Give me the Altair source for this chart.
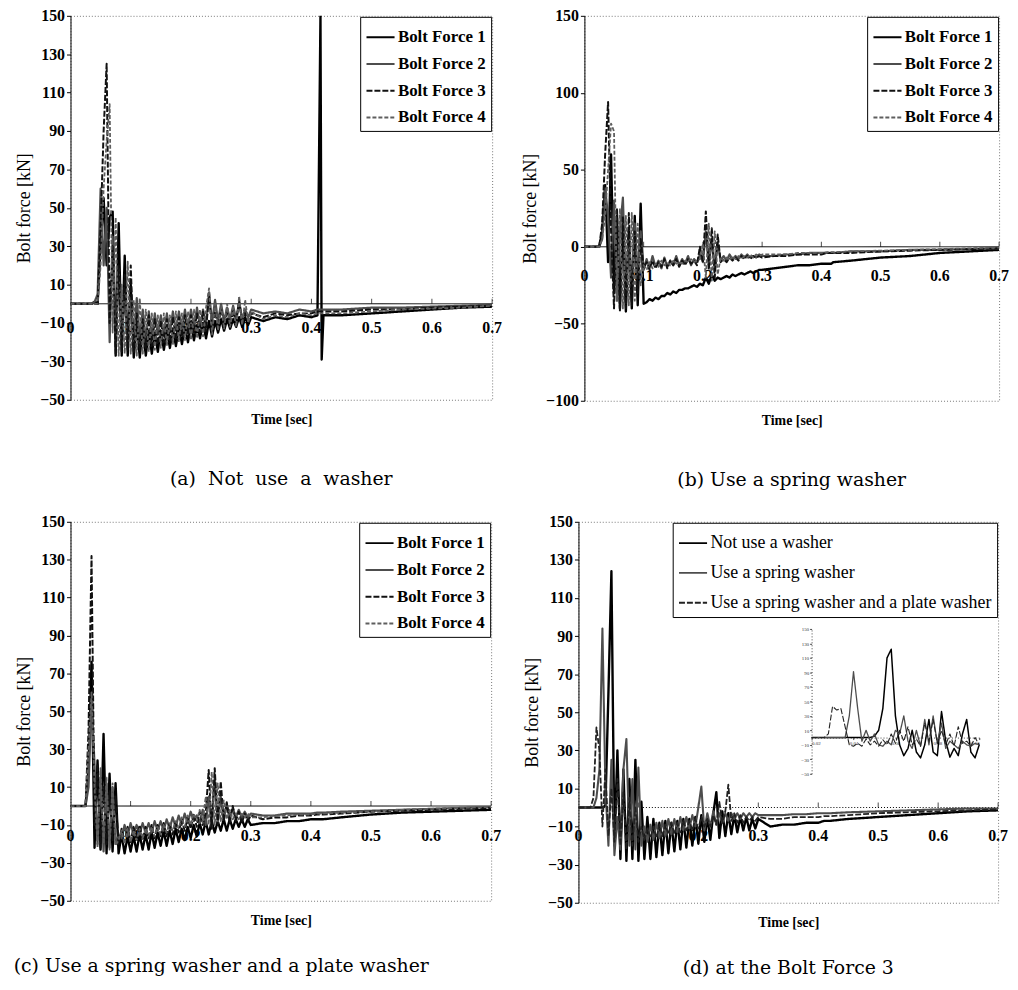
import altair as alt
import pandas as pd

FONT = "Liberation Serif"
CAP_FONT = "DejaVu Serif"
NB = "\u00a0"

# ---------------- time grid shared by the four main panels (sec) ----------------
time_s = [
    0.000, 0.010,
    0.020, 0.025, 0.030, 0.035, 0.040, 0.045, 0.050, 0.055, 0.060, 0.065,
    0.070, 0.075, 0.080, 0.085, 0.090, 0.095, 0.100, 0.105, 0.110, 0.115,
    0.120, 0.125, 0.130, 0.135, 0.140, 0.145, 0.150, 0.155, 0.160, 0.165,
    0.170, 0.175, 0.180, 0.185, 0.190, 0.195, 0.200, 0.205, 0.210, 0.215,
    0.220, 0.225, 0.230, 0.235, 0.240, 0.245, 0.250, 0.255, 0.260, 0.265,
    0.270, 0.275, 0.280, 0.285, 0.290, 0.295, 0.300,
    0.32, 0.34, 0.36, 0.38, 0.40, 0.41, 0.415, 0.417, 0.42, 0.45, 0.50, 0.55, 0.60, 0.65, 0.70,
]

# ---------------- (a) Not use a washer ----------------
a_bf1 = [0, 0,
    0, 0, 0, 0, 1, 0, 30, 55, 20, 45,
    48, -27, 42, -27, 25, -27, 10, -28, -10, -28,
    -12, -27, -14, -26, -15, -25, -14, -24, -14, -23,
    -13, -22, -12, -21, -12, -20, -11, -19, -11, -18,
    -10, -18, -9, -17, -9, -15, -8, -14, -8, -13,
    -8, -12, -7, -12, -7, -11, -7,
    -9, -7, -8, -6, -7, -6, 150, -29, -6, -6, -5, -4, -3, -2, -1.5]
a_bf2 = [0, 0,
    0, 0, 0, 0, 1, 5, 60, 20, 50, -20,
    35, -22, 18, -20, 5, -22, 3, -20, 3, -18,
    -3, -19, -4, -17, -5, -16, -6, -16, -5, -15,
    -4, -14, -4, -14, -3, -13, -3, -12, -2, -12,
    -3, -11, 6, -10, 2, -9, 0, -9, -2, -8,
    -1, -8, 1, -8, -3, -7, -3,
    -5, -4, -5, -3, -4, -3, -3, -3, -3, -3, -2, -2, -1.5, -1, -0.5]
a_bf3 = [0, 0,
    0, 0, 0, 0, 0, 0, 40, 90, 125, -10,
    30, -26, 20, -25, 15, -24, 20, -25, -5, -24,
    -8, -23, -6, -22, -8, -21, -9, -20, -8, -19,
    -7, -18, -7, -17, -6, -16, -6, -15, -5, -15,
    -4, -14, 5, -13, -4, -12, -3, -11, -5, -11,
    -4, -10, 2, -10, -5, -9, -5,
    -7, -5, -6, -5, -5, -4, -4, -4, -4, -4, -3, -3, -2, -1.5, -1]
a_bf4 = [0, 0,
    0, 0, 0, 0, 0, 0, 20, 60, 85, 104,
    -15, 45, -27, 10, -26, 22, -26, 2, -27, 3,
    -26, -3, -25, -5, -24, -6, -23, -5, -22, -6,
    -21, -4, -20, -5, -19, -4, -19, -3, -18, -3,
    -17, -2, 8, -16, 0, -14, -1, -13, 0, -12,
    -2, -12, 4, -11, 2, -10, -4,
    -8, -6, -7, -5, -6, -5, -5, -5, -5, -5, -4, -3, -2.5, -2, -1]

# ---------------- (b) Use a spring washer ----------------
b_bf1 = [0, 0,
    0, 0, 10, 40, -10, 60, -30, 20, -40, 15,
    -42, 10, -40, 20, -38, 28, -37, -36, -34, -35,
    -33, -34, -32, -32, -30, -31, -29, -30, -28, -28,
    -27, -27, -26, -25, -26, -24, -25, -20, -24, -18,
    -22, -20, -21, -20, -19, -20, -18, -19, -18, -17,
    -18, -17, -16, -17, -16, -15, -15,
    -14, -13, -12, -12, -11, -11, -11, -11, -10, -9, -7, -6, -4, -3, -2]
b_bf2 = [0, 0,
    0, 0, 5, 38, 20, -20, 30, -35, 10, 32,
    -30, 5, -25, 15, -20, 10, -15, -8, -14, -6,
    -13, -9, -14, -7, -13, -9, -12, -6, -12, -8,
    -11, -6, -12, -8, -10, -5, -10, 10, -12, 5,
    -15, 3, -9, -6, -9, -5, -8, -6, -8, -5,
    -7, -5, -7, -6, -7, -5, -6,
    -6, -5, -5, -4, -4, -4, -4, -4, -4, -3, -3, -2, -2, -1.5, -1]
b_bf3 = [0, 0,
    0, 0, 15, 60, 94, 10, -40, 25, -42, 20,
    -40, 22, -38, 10, -30, 5, -14, -10, -15, -9,
    -14, -10, -13, -8, -14, -9, -12, -8, -13, -9,
    -12, -8, -11, -9, -12, 0, -10, 23, -15, 12,
    -20, 8, -10, -8, -10, -7, -9, -7, -9, -6,
    -8, -6, -8, -6, -7, -6, -7,
    -6, -6, -5, -5, -5, -4, -4, -4, -4, -4, -3, -2.5, -2, -1.5, -1]
b_bf4 = [0, 0,
    0, 0, 5, 20, 50, 80, 75, -35, 25, -40,
    20, -38, 22, -35, 15, -25, -12, -15, -10, -14,
    -11, -13, -9, -12, -10, -12, -9, -11, -10, -11,
    -9, -10, -8, -10, -9, -8, 2, -20, 15, -22,
    10, -18, -7, -9, -7, -9, -6, -8, -6, -8,
    -6, -7, -5, -7, -5, -6, -5,
    -5, -5, -4, -4, -4, -3.5, -3.5, -3.5, -3.5, -3, -2.5, -2, -1.5, -1, -0.5]

# ---------------- (c) Use a spring washer and a plate washer ----------------
c_bf1 = [0, 0,
    0, 0, 20, 76, -22, 24, -23, 38, -25, 17,
    -24, 12, -25, -15, -25, -16, -24, -16, -24, -15,
    -23, -15, -23, -14, -22, -14, -21, -13, -21, -13,
    -20, -12, -19, -12, -18, -11, -17, -10, -16, -9,
    -15, -8, -15, -8, -14, -8, -13, -7, -13, -7,
    -12, -7, -11, -7, -11, -7, -10,
    -9, -9, -8, -8, -7, -7, -7, -7, -7, -6, -4.5, -3.5, -3, -2.5, -2]
c_bf2 = [0, 0,
    0, 0, 10, 55, 22, -20, 15, -24, 12, -22,
    10, -20, -15, -17, -10, -16, -9, -15, -10, -15,
    -9, -14, -9, -14, -8, -13, -8, -13, -7, -12,
    -6, -11, -5, -10, -4, -9, -3, -8, -5, -9,
    -2, -10, 5, -11, 15, -9, 5, -7, 1, -6,
    -1, -6, -2, -6, -3, -6, -4,
    -5, -5, -4, -4, -4, -3.5, -3.5, -3.5, -3.5, -3, -2.5, -2, -1.5, -1, -0.5]
c_bf3 = [0, 0,
    0, 0, 40, 132, -10, 22, -22, 10, -20, 8,
    -18, 5, -20, -12, -19, -11, -19, -11, -18, -10,
    -18, -11, -17, -10, -17, -10, -16, -9, -16, -9,
    -15, -8, -14, -7, -13, -6, -12, -4, -11, -3,
    -10, -4, 19, -12, 20, -10, 13, -8, 2, -9,
    0, -8, -3, -9, -4, -8, -5,
    -7, -6, -6, -5, -5, -4.5, -4.5, -4.5, -4.5, -4, -3, -2.5, -2, -1.5, -1]
c_bf4 = [0, 0,
    0, 0, 30, 60, 10, -22, 20, -20, 15, -23,
    12, -21, -18, -13, -20, -12, -19, -13, -18, -12,
    -17, -12, -16, -11, -16, -11, -15, -10, -14, -9,
    -13, -8, -12, -6, -11, -5, -10, -4, -8, -2,
    -9, 5, -10, 18, -10, 12, -8, 3, -7, -2,
    -7, -4, -7, -4, -6, -4, -6,
    -6, -5, -5, -4.5, -4.5, -4, -4, -4, -4, -3.5, -3, -2, -1.5, -1, -0.5]

# ---------------- (d) at the Bolt Force 3 ----------------
d_none = [0, 0,
    0, 0, 0, 0, 0, 1, 60, 124, -20, 30,
    -27, 20, -28, 15, -27, 25, -28, 3, -27, -5,
    -27, -6, -26, -8, -25, -7, -24, -8, -23, -7,
    -22, -6, -21, -6, -20, -5, -19, -4, -18, -5,
    -17, -3, 8, -16, -2, -15, -3, -14, -4, -13,
    -5, -12, -5, -12, -6, -11, -6,
    -10, -9, -9, -8, -8, -7, -7, -7, -7, -6, -5, -4, -3, -2, -1.5]
d_spring = [0, 0,
    0, 0, 5, 20, 94, 10, -20, 25, -25, -5,
    -22, 20, 36, -20, 15, -22, 21, -20, -10, -18,
    -9, -17, -8, -16, -7, -15, -6, -14, -6, -13,
    -5, -12, -5, -11, -4, -10, 0, 11, -12, -3,
    -10, -2, -9, -3, -8, -3, -7, -3, -6, -3,
    -6, -3, -5, -3, -5, -3, -4,
    -4, -4, -3.5, -3.5, -3, -3, -3, -3, -3, -2.5, -2, -1.5, -1, -0.5, -0.5]
d_plate = [0, 0,
    0, 5, 42, 30, -10, 20, -15, 10, -18, 15,
    -20, 8, -22, 5, -20, 0, -18, -10, -17, -11,
    -16, -10, -16, -9, -15, -9, -14, -8, -14, -8,
    -13, -7, -12, -7, -12, -6, -11, -5, -10, -6,
    -10, -4, -9, 3, -8, -2, 12, -7, -3, -8,
    -4, -8, -5, -7, -5, -7, -5,
    -6, -6, -5, -5, -5, -4.5, -4.5, -4.5, -4.5, -4, -3, -2.5, -2, -1.5, -1]

# inset of (d): zoom on the first impact
time_inset = [
    0.020, 0.022, 0.024, 0.026, 0.028, 0.030, 0.032, 0.034, 0.036, 0.038,
    0.040, 0.042, 0.044, 0.046, 0.048, 0.050, 0.052, 0.054, 0.056, 0.058,
    0.060, 0.062, 0.064, 0.066, 0.068, 0.070, 0.072, 0.074, 0.076, 0.078,
    0.080, 0.082, 0.084, 0.086, 0.088, 0.090, 0.092, 0.094, 0.096, 0.098,
    0.100]
ins_none = [0, 0, 0, 0, 0, 0, 0, 0, 0, 0,
    0, 0, 0, 0, 0, 2, 10, 40, 110, 122,
    30, -10, -25, -15, 10, -20, -28, -10, 25, -20,
    -25, 36, -5, -27, -15, -25, 5, 25, -20, -28,
    -10]
ins_spring = [0, 0, 0, 0, 0, 0, 0, 0, 0, 30,
    91, 40, -5, 10, -5, 5, -10, -12, -5, -10,
    10, 5, 30, -5, -15, 10, -12, 25, -10, 30,
    -8, 20, -15, -5, -10, -15, -5, -10, -12, -8,
    -10]
ins_plate = [0, 0, 0, 0, 5, 43, 38, 40, 15, -10,
    -12, -8, -12, -2, -10, -5, -12, -3, -10, 5,
    -8, 10, -5, 15, -10, -2, -12, 20, -5, 25,
    -8, 10, -10, 5, -12, 15, -8, -5, -12, 0,
    -10]

# ---------------- axis tick values / labels ----------------
x_tick_values = [0, 0.1, 0.2, 0.3, 0.4, 0.5, 0.6, 0.7]
x_tick_labels = ["0", "0.1", "0.2", "0.3", "0.4", "0.5", "0.6", "0.7"]
y_ticks_20 = [150, 130, 110, 90, 70, 50, 30, 10, -10, -30, -50]
y_ticks_50 = [150, 100, 50, 0, -50, -100]
inset_x_ticks = [0.02, 0.04, 0.06, 0.08, 0.1]

bolt_names = ["Bolt Force 1", "Bolt Force 2", "Bolt Force 3", "Bolt Force 4"]
bolt_colors = ["#000000", "#4d4d4d", "#111111", "#5e5e5e"]
bolt_dashes = [[1, 0], [1, 0], [6, 2], [4, 2]]
bolt_widths = [2.4, 1.8, 1.9, 1.8]

d_names = ["Not use a washer", "Use a spring washer", "Use a spring washer and a plate washer"]
d_colors = ["#000000", "#4d4d4d", "#222222"]
d_dashes = [[1, 0], [1, 0], [6, 2]]
d_widths = [2.4, 1.8, 1.8]

GUIDES = dict(color="independent", strokeDash="independent", strokeWidth="independent")


def build_df(t, names, values):
    rows = []
    for name, vals in zip(names, values):
        assert len(vals) == len(t), (name, len(vals), len(t))
        for ti, v in zip(t, vals):
            rows.append({"t": ti, "v": v, "s": name})
    return pd.DataFrame(rows)


def make_legend(bold, size, row_pad):
    return alt.Legend(title=None, orient="top-right", offset=1, symbolType="stroke",
                      symbolSize=800, symbolStrokeWidth=2, labelFont=FONT, labelFontSize=size,
                      labelFontWeight="bold" if bold else "normal", labelColor="black",
                      strokeColor="black", fillColor="white", padding=5, rowPadding=row_pad,
                      labelOffset=2, labelLimit=500)


def panel(names, values, colors, dashes, widths, ydom, yticks, w, h, lab_dy,
          caption, cap_dx, cap_offset, leg_bold, leg_size, leg_pad, zero_dash, inset=None):
    df = build_df(time_s, names, values)
    xs = alt.Scale(domain=[0, 0.7], nice=False, zero=False)
    ys = alt.Scale(domain=ydom, nice=False, zero=False)
    leg = make_legend(leg_bold, leg_size, leg_pad)
    lines = alt.Chart(df).mark_line(clip=True, strokeJoin="round").encode(
        x=alt.X("t:Q", scale=xs, axis=alt.Axis(
            title="Time [sec]", labels=False, ticks=False, domain=False, grid=False,
            titleFont=FONT, titleFontSize=14, titleFontWeight="bold", titleColor="black",
            titlePadding=13)),
        y=alt.Y("v:Q", scale=ys, axis=alt.Axis(
            title="Bolt force [kN]", values=yticks, grid=False, domainColor="black",
            domainWidth=1, tickColor="black", tickSize=4, labelPadding=2,
            labelFont=FONT, labelFontSize=16, labelFontWeight="bold", labelColor="black",
            titleFont=FONT, titleFontSize=18, titleFontWeight="normal", titleColor="black",
            titlePadding=6)),
        color=alt.Color("s:N", title=None, scale=alt.Scale(domain=names, range=colors), legend=leg),
        strokeDash=alt.StrokeDash("s:N", title=None, scale=alt.Scale(domain=names, range=dashes), legend=leg),
        strokeWidth=alt.StrokeWidth("s:N", scale=alt.Scale(domain=names, range=widths), legend=None),
    )
    lab_df = pd.DataFrame({"t": x_tick_values, "lab": x_tick_labels, "z": [0] * len(x_tick_values)})
    labs = alt.Chart(lab_df).mark_text(font=FONT, fontSize=16, fontWeight="bold", dy=lab_dy,
                                       color="black", baseline="middle").encode(
        x=alt.X("t:Q", scale=xs, axis=None), y=alt.Y("z:Q", scale=ys, axis=None), text="lab:N")
    zero = alt.Chart(pd.DataFrame({"z": [0]})).mark_rule(color="black", strokeWidth=1,
                                                          strokeDash=zero_dash).encode(
        y=alt.Y("z:Q", scale=ys, axis=None))
    ticks = alt.Chart(lab_df[lab_df.t > 0]).mark_tick(orient="vertical", size=5, thickness=1,
                                                       yOffset=-2.5, color="black").encode(
        x=alt.X("t:Q", scale=xs, axis=None), y=alt.Y("z:Q", scale=ys, axis=None))
    layers = [labs, zero, ticks, lines]
    if inset is not None:
        layers.append(inset)
    ch = alt.layer(*layers).resolve_scale(x="independent", y="independent",
                                          strokeWidth="independent")
    return ch.properties(width=w, height=h, title=alt.TitleParams(
        caption, orient="bottom", anchor="middle", font=CAP_FONT, fontSize=19,
        fontWeight="normal", color="black", offset=cap_offset, dx=cap_dx))


# inset chart placed inside panel (d) through its own scale ranges
ins_df = build_df(time_inset, d_names, [ins_none, ins_spring, ins_plate])
ixs = alt.Scale(domain=[0.02, 0.10], range=[235, 404], nice=False, zero=False)
iys = alt.Scale(domain=[-50, 150], range=[254, 108], nice=False, zero=False)
inset = alt.Chart(ins_df).mark_line(strokeJoin="round").encode(
    x=alt.X("t:Q", scale=ixs, axis=alt.Axis(
        orient="bottom", offset=-166.5, values=inset_x_ticks, title=None, grid=False,
        labelFontSize=5, labelFont=FONT, tickSize=2, domainDash=[1, 2], domainColor="#444",
        labelColor="#333", tickColor="#444", labelPadding=1)),
    y=alt.Y("v:Q", scale=iys, axis=alt.Axis(
        orient="left", offset=-235, values=y_ticks_20, title=None, grid=False,
        labelFontSize=5, labelFont=FONT, tickSize=2, domainDash=[1, 2], domainColor="#444",
        labelColor="#333", tickColor="#444", labelPadding=1)),
    color=alt.Color("s:N", scale=alt.Scale(domain=d_names, range=d_colors), legend=None),
    strokeDash=alt.StrokeDash("s:N", scale=alt.Scale(domain=d_names, range=d_dashes), legend=None),
    strokeWidth=alt.StrokeWidth("s:N", scale=alt.Scale(domain=d_names, range=[1.5, 1.1, 1.1]), legend=None),
)

cap_a = "(a)" + NB + " Not" + NB + " use" + NB + " a" + NB + " washer"
pa = panel(bolt_names, [a_bf1, a_bf2, a_bf3, a_bf4], bolt_colors, bolt_dashes, bolt_widths,
           [-50, 150], y_ticks_20, 425, 387, 24, cap_a, 0, 44, True, 17, 3, [1, 0])
pb = panel(bolt_names, [b_bf1, b_bf2, b_bf3, b_bf4], bolt_colors, bolt_dashes, bolt_widths,
           [-100, 150], y_ticks_50, 418, 388, 29, "(b) Use a spring washer", 0, 44, True, 17, 3, [1, 0])
pc = panel(bolt_names, [c_bf1, c_bf2, c_bf3, c_bf4], bolt_colors, bolt_dashes, bolt_widths,
           [-50, 150], y_ticks_20, 424, 382, 30, "(c) Use a spring washer and a plate washer",
           -60, 30, True, 17, 3, [1, 0])
pd_ = panel(d_names, [d_none, d_spring, d_plate], d_colors, d_dashes, d_widths,
            [-50, 150], y_ticks_20, 423, 384, 29, "(d) at the Bolt Force 3", 0, 30, False, 18, 5, [1, 2],
            inset=inset)

row1 = alt.hconcat(pa, pb, spacing=18).resolve_scale(**GUIDES).resolve_legend(
    color="independent", strokeDash="independent")
row2 = alt.hconcat(pc, pd_, spacing=21).resolve_scale(**GUIDES).resolve_legend(
    color="independent", strokeDash="independent")
chart = alt.vconcat(row1, row2, spacing=22).resolve_scale(**GUIDES).resolve_legend(
    color="independent", strokeDash="independent").properties(
    padding={"left": 5, "top": -5, "right": 0, "bottom": 0}
).configure_view(stroke="#777777", strokeDash=[1, 2], strokeWidth=1
).configure_axis(labelFont=FONT, titleFont=FONT)

chart.save("out.html", embed_options={"renderer": "svg", "actions": False})
